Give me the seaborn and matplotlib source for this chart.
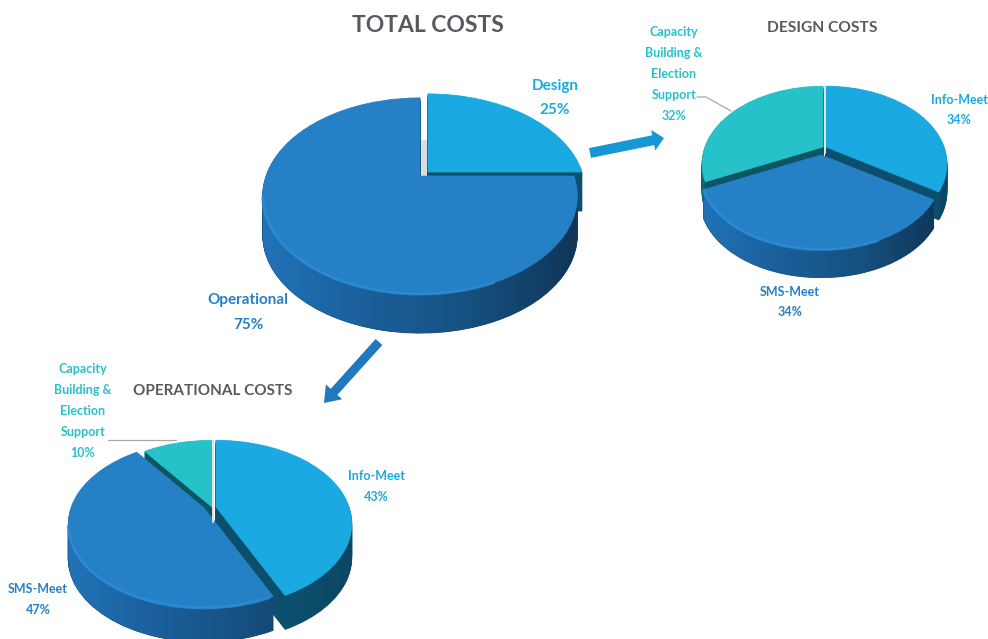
import numpy as np
import matplotlib
matplotlib.use("Agg")
import matplotlib.pyplot as plt
from matplotlib.path import Path
from matplotlib.transforms import Transform
from matplotlib.patches import FancyArrow
import seaborn as sns

# Cost shares, in percent, clockwise from twelve o'clock
total_categories = ["Design", "Operational"]
total_values = [25, 75]
design_categories = ["Info-Meet", "SMS-Meet", "Capacity Building & Election Support"]
design_values = [34, 34, 32]
operational_categories = ["Info-Meet", "SMS-Meet", "Capacity Building & Election Support"]
operational_values = [43, 47, 10]

sns.set_theme(style="white")
plt.rcParams["font.family"] = ["Lato", "DejaVu Sans"]
plt.rcParams["font.weight"] = "bold"

SKY = "#1AA9E0"
BLUE = "#2680C6"
TEAL = "#26C1C9"
GREY = "#565A5E"

# Side walls run from a lit left edge to a shaded right edge
blue_wall = sns.blend_palette(["#2273B8", "#1A5F9A", "#16507F", "#0F3557"], as_cmap=True)
sky_wall = sns.blend_palette(["#136C92", "#0E5A7C", "#0B4763"], as_cmap=True)
teal_wall = sns.blend_palette(["#0F6A78", "#0C5563"], as_cmap=True)
WALLS = {SKY: (sky_wall, "#0C4F6C"), BLUE: (blue_wall, "#124A75"), TEAL: (teal_wall, "#0C5563")}


class TiltedDisc(Transform):
    """Projects the unit pie onto a receding plane, in pixel coordinates."""
    input_dims = 2
    output_dims = 2
    has_inverse = False

    def __init__(self, cx, cy, sx, sy, k, drop=0.0):
        super().__init__()
        self.cx, self.cy, self.sx, self.sy, self.k, self.drop = cx, cy, sx, sy, k, drop

    def transform_non_affine(self, values):
        x, y = np.asarray(values).T
        w = 1 + self.k * y
        return np.column_stack((self.cx + self.sx * x / w,
                                self.cy + self.drop - self.sy * y / w))


fig = plt.figure(figsize=(9.88, 6.39), dpi=100)
ax = fig.add_axes([0, 0, 1, 1])


def draw_pie(values, colors, apexes, order, sx, sy, k, depth):
    """Draws each slice back to front: cut faces, shaded wall, then the top face."""
    n_layers = int(depth)
    layers = [ax.pie(values, startangle=90, counterclock=False, colors=colors,
                     wedgeprops=dict(linewidth=0.6))[0]
              for _ in range(n_layers + 1)]
    for rank, i in enumerate(order):
        color = colors[i]
        cx, cy = apexes[i]
        wall_cmap, cut_color = WALLS[color]
        base = 10 + 10 * rank
        for j in range(n_layers, 0, -1):
            wedge = layers[j][i]
            wedge.set_transform(TiltedDisc(cx, cy, sx, sy, k, drop=j) + ax.transData)
            wedge.set_facecolor(cut_color)
            wedge.set_edgecolor(cut_color)
            wedge.set_zorder(base)
        top = layers[0][i]
        top_tilt = TiltedDisc(cx, cy, sx, sy, k)
        top.set_transform(top_tilt + ax.transData)
        top.set_edgecolor(color)
        top.set_zorder(base + 2)

        # Outer wall of the slice, limited to the arc that faces the viewer
        angles = np.radians(np.linspace(top.theta1, top.theta2, 300))
        angles = angles[np.sin(angles) < -k]
        if angles.size < 2:
            continue
        unit = np.column_stack((np.cos(angles), np.sin(angles)))
        upper = top_tilt.transform(unit)
        lower = TiltedDisc(cx, cy, sx, sy, k, drop=depth).transform(unit)
        outline = np.vstack((upper, lower[::-1], upper[:1]))
        x0, x1 = cx - sx * 1.03, cx + sx * 1.03
        image = ax.imshow(np.linspace(0, 1, 256)[None, :], cmap=wall_cmap, aspect="auto",
                          extent=(x0, x1, outline[:, 1].max(), outline[:, 1].min()),
                          zorder=base + 1)
        image.set_clip_path(Path(outline), ax.transData)
        if color == BLUE:
            # Lit bevel along the lower-left rim of the top face
            lit = upper[upper[:, 0] < cx + 0.5 * sx]
            ax.plot(lit[:, 0], lit[:, 1], color="#2F90DC", lw=2.0, alpha=0.7,
                    solid_capstyle="butt", zorder=base + 3)


draw_pie(total_values, [SKY, BLUE], [(428, 172), (420, 176)], [0, 1], 154, 94, 0.204, 39)
draw_pie(design_values, [SKY, BLUE, TEAL], [(826, 147), (821, 155), (823, 147)], [0, 2, 1],
         118, 74, 0.218, 28)
draw_pie(operational_values, [SKY, BLUE, TEAL], [(216, 507), (204, 508), (212, 507)], [2, 0, 1],
         133, 80, 0.20, 34)

# Hairline gaps between the top faces where slices part
ax.plot([424.5, 424.5], [140, 175], color="#DDDDDD", lw=6, solid_capstyle="butt", zorder=8)
ax.plot([824.5, 824.5], [86, 153], color="#E4E4E4", lw=1.4, zorder=60)
ax.plot([213, 213], [440, 522], color="#E4E4E4", lw=1.4, zorder=60)

# Leader lines for the outside labels
ax.plot([697, 706, 731], [97, 97, 111], color="#A8A8A8", lw=0.9, zorder=60)
ax.plot([108, 176], [440, 440], color="#A8A8A8", lw=0.9, zorder=60)

# Arrows from the total pie to its breakdowns
ax.add_patch(FancyArrow(590, 153, 74, -15, width=10, head_width=21, head_length=11,
                        length_includes_head=True, color="#1697D6", lw=0, zorder=60))
ax.add_patch(FancyArrow(379, 342, -55, 61, width=9, head_width=22, head_length=15,
                        length_includes_head=True, color="#2079BE", lw=0, zorder=60))

# Chart titles
ax.text(428, 25, "TOTAL COSTS", fontsize=16.5, color=GREY, ha="center", va="center", zorder=70)
ax.text(822, 28, "DESIGN COSTS", fontsize=11.2, color=GREY, ha="center", va="center", zorder=70)
ax.text(213, 391, "OPERATIONAL COSTS", fontsize=11, color=GREY, ha="center", va="center", zorder=70)


def slice_label(x, y, name, value, color, size, gap):
    """Stacks the wrapped category name above its percentage, centred on x."""
    lines = name + [f"{value}%"]
    for i, line in enumerate(lines):
        ax.text(x, y + i * gap, line, color=color, fontsize=size, ha="center", va="center", zorder=70)


slice_label(555, 86, [total_categories[0]], total_values[0], SKY, 11, 24)
slice_label(248, 300, [total_categories[1]], total_values[1], BLUE, 11, 25)
slice_label(674, 32, ["Capacity", "Building &", "Election", "Support"], design_values[2], TEAL, 9, 21)
slice_label(959, 100, [design_categories[0]], design_values[0], SKY, 9, 20)
slice_label(790, 292, [design_categories[1]], design_values[1], BLUE, 9, 20)
slice_label(83, 369, ["Capacity", "Building &", "Election", "Support"], operational_values[2], TEAL, 9, 21)
slice_label(376, 476, [operational_categories[0]], operational_values[0], SKY, 9, 21)
slice_label(38, 589, [operational_categories[1]], operational_values[1], BLUE, 9, 21)

ax.set_aspect("auto")
ax.set_xlim(0, 988)
ax.set_ylim(639, 0)
ax.axis("off")

fig.savefig("out.png", dpi=100, facecolor="white")
